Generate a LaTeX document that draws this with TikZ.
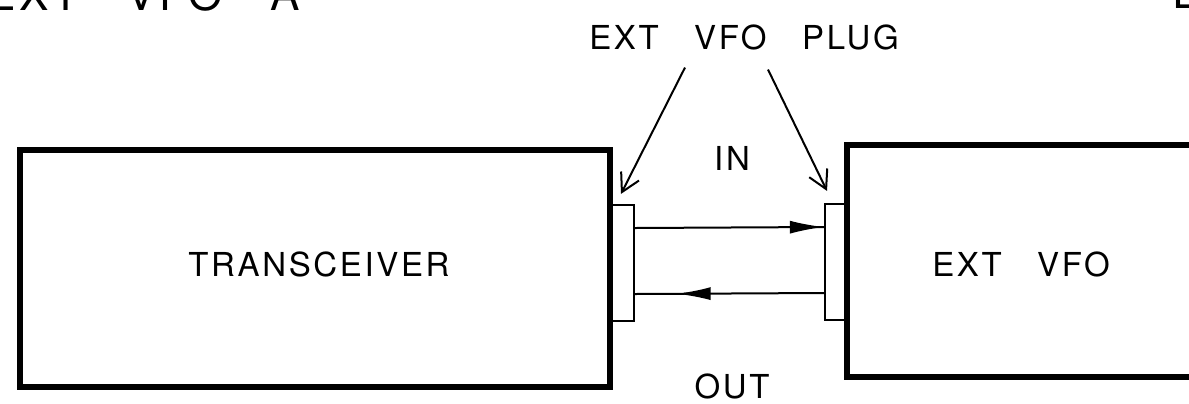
\documentclass[tikz,border=0pt]{standalone}
\usepackage{fontspec}
\setmainfont{TeX Gyre Heros}
\newfontfamily\lblfont[LetterSpace=8,WordSpace=3]{TeX Gyre Heros}
\usetikzlibrary{calc, positioning}
\usetikzlibrary{arrows.meta}
\usetikzlibrary{decorations.markings}

\tikzset{
  unitbox/.style={draw, line width=3pt, inner sep=0pt},
  plugbox/.style={draw, line width=1.1pt, fill=white, inner sep=0pt,
    minimum width=11pt, minimum height=58pt},
  lbl/.style={font=\lblfont\fontsize{16.5}{18}\selectfont, inner sep=0pt},
  callout/.style={line width=1pt, -{Straight Barb[length=9pt,width=10pt]}},
  signal/.style={line width=1pt},
  tipat/.style={postaction={decorate}, decoration={markings,
    mark=at position #1 with {\arrow{Latex[length=17pt,width=6.5pt]}}}}
}

\begin{document}
\begin{tikzpicture}[x=0.5pt,y=-0.5pt]
\clip (0,0) rectangle (1189,403);
\fill[white] (0,0) rectangle (1189,403);

% units
\node[unitbox, minimum width=295pt, minimum height=118.5pt] (trx) at (315,268.5) {};
\node[unitbox, minimum width=200pt, minimum height=116pt] (vfo) at (1047,261) {};
\node[lbl] (trxlbl) at (319,264) {TRANSCEIVER};
\node[lbl] (vfolbl) at (1021,264) {EXT VFO};

% plugs
\node[plugbox] (lplug) at (623,263) {};
\node[plugbox, minimum width=10pt] (rplug) at (835,262) {};

% signal lines
\draw[signal, tipat=1] ([yshift=17.5pt]lplug.east) -- ([yshift=17.5pt]rplug.west);
\draw[signal, tipat=0.78] ([yshift=-15.5pt]rplug.west) -- ([yshift=-15.5pt]lplug.east);
\node[lbl] (inlbl) at (732,158) {IN};
\node[lbl] (outlbl) at (732,386) {OUT};

% plug callout
\node[lbl] (pluglbl) at (744,37.5) {EXT VFO PLUG};
\draw[callout] ([xshift=-29.5pt,yshift=-8.5pt]pluglbl.south) -- ([xshift=-1pt,yshift=5pt]lplug.north);
\draw[callout] ([xshift=12pt,yshift=-9.5pt]pluglbl.south) -- ([xshift=-4pt,yshift=6pt]rplug.north);

% cut-off heading
\node[lbl, font=\lblfont\fontsize{22}{24}\selectfont, anchor=base west] (headl) at (-14,10) {EXT VFO A};
\node[lbl, font=\lblfont\fontsize{22}{24}\selectfont, anchor=base west] (headr) at (1172,8) {E};
\end{tikzpicture}
\end{document}
